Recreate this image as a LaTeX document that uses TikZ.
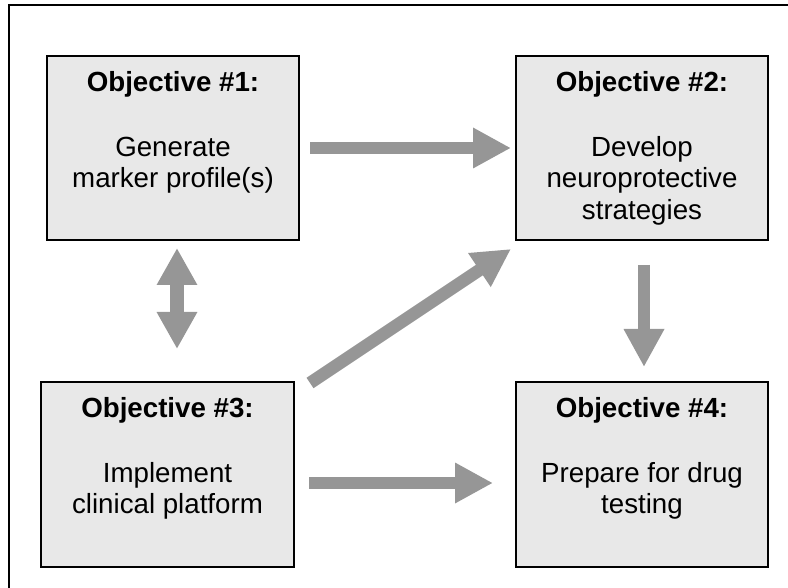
\documentclass[tikz,border=0pt]{standalone}
\usepackage{fontspec}
\setmainfont{Liberation Sans}
\usetikzlibrary{arrows.meta,calc}
\definecolor{boxfill}{HTML}{E8E8E8}
\definecolor{arrowgray}{HTML}{969696}
\tikzset{
  objbox/.style={draw=black, line width=1.8pt, fill=boxfill, inner sep=0pt},
  objtext/.style={anchor=north, inner sep=0pt, align=center,
    font=\fontsize{27.7}{31.5}\selectfont},
  blockarrow/.style={draw=arrowgray, line width=12.5pt,
    -{Triangle[length=38pt,width=38pt]}},
  dblarrow/.style={draw=arrowgray, line width=14pt,
    {Triangle[length=37pt,width=38pt]}-{Triangle[length=37pt,width=38pt]}},
}
\begin{document}
\begin{tikzpicture}[x=1pt,y=-1pt]
\useasboundingbox (0,0) rectangle (788,588);
% outer frame (only top and left edges visible)
\draw[line width=2.2pt] (9,600) -- (9,5) -- (800,5);
% boxes
\node[objbox, minimum width=252pt, minimum height=184pt] (o1) at (173,148) {};
\node[objbox, minimum width=252pt, minimum height=184pt] (o2) at (642,148) {};
\node[objbox, minimum width=253pt, minimum height=185pt] (o3) at (167.5,474.5) {};
\node[objbox, minimum width=252pt, minimum height=185pt] (o4) at (642,474.5) {};
% texts
\node[objtext] (t1) at ([yshift=-16pt]o1.north) {\textbf{Objective \#1:}\\[33.5pt]Generate\\marker profile(s)};
\node[objtext] (t2) at ([yshift=-16pt]o2.north) {\textbf{Objective \#2:}\\[33.5pt]Develop\\neuroprotective\\strategies};
\node[objtext] (t3) at ([yshift=-16pt]o3.north) {\textbf{Objective \#3:}\\[33.5pt]Implement\\clinical platform};
\node[objtext] (t4) at ([yshift=-16pt]o4.north) {\textbf{Objective \#4:}\\[33.5pt]Prepare for drug\\testing};
% arrow end points
\coordinate (a1s) at (310,148);
\coordinate (a1e) at (511,148);
\coordinate (a2s) at (310,383);
\coordinate (a2e) at (511,249);
\coordinate (a3s) at (309,483);
\coordinate (a3e) at (493,483);
\coordinate (a4s) at (644,265);
\coordinate (a4e) at (644,367);
\coordinate (a5s) at (177,248);
\coordinate (a5e) at (177,349);
% arrows
\draw[blockarrow] (a1s) -- (a1e);
\draw[blockarrow] (a2s) -- (a2e);
\draw[blockarrow] (a3s) -- (a3e);
\draw[blockarrow] (a4s) -- (a4e);
\draw[dblarrow] (a5s) -- (a5e);
\end{tikzpicture}
\end{document}
